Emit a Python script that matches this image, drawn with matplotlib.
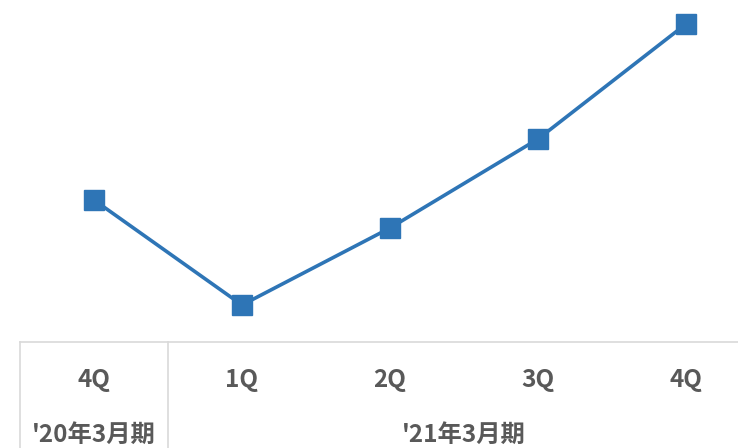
import matplotlib

matplotlib.use("Agg")
import matplotlib.pyplot as plt
from matplotlib.lines import Line2D

plt.rcParams["font.family"] = ["Noto Sans CJK JP", "DejaVu Sans"]

quarters = ["4Q", "1Q", "2Q", "3Q", "4Q"]
values = [142, 37, 114, 203, 318]
periods = ["'20年3月期", "'21年3月期"]
period_spans = [(0, 0), (1, 4)]

LINE = "#2E75B6"
TEXT = "#595959"
GRID = "#D9D9D9"

W, H = 738, 448
fig = plt.figure(figsize=(W / 100, H / 100), dpi=100)

# plot area: from x=20px to 760px (the last category runs off the right edge)
x0, x1 = 20, 760
axis_y = 342
ax = fig.add_axes([x0 / W, (H - axis_y) / H, (x1 - x0) / W, axis_y / H])
ax.set_axis_off()
ax.set_xlim(-0.5, len(quarters) - 0.5)
ax.set_ylim(0, axis_y)
ax.plot(range(len(values)), values, color=LINE, lw=2.6, marker="s",
        markersize=15, markerfacecolor=LINE, markeredgecolor=LINE,
        solid_capstyle="round", clip_on=False)

# category axis (figure pixel coordinates)
lab = fig.add_axes([0, 0, 1, 1])
lab.set_axis_off()
lab.set_xlim(0, W)
lab.set_ylim(H, 0)


def cx(i):
    return x0 + (i + 0.5) * (x1 - x0) / len(quarters)


lab.add_line(Line2D([x0, W], [axis_y, axis_y], color=GRID, lw=1.2))
lab.add_line(Line2D([x0, x0], [axis_y, H], color=GRID, lw=1.2))
edge = x0 + (x1 - x0) / len(quarters)
lab.add_line(Line2D([edge, edge], [axis_y, H], color=GRID, lw=1.2))

for i, q in enumerate(quarters):
    lab.text(cx(i), 380, q, ha="center", va="center", fontsize=17.5,
             color=TEXT, fontweight="bold")

for name, (a, b) in zip(periods, period_spans):
    lab.text((cx(a) + cx(b)) / 2, 435, name, ha="center", va="center",
             fontsize=17.5, color=TEXT, fontweight="bold")

fig.savefig("out.png", dpi=100)
